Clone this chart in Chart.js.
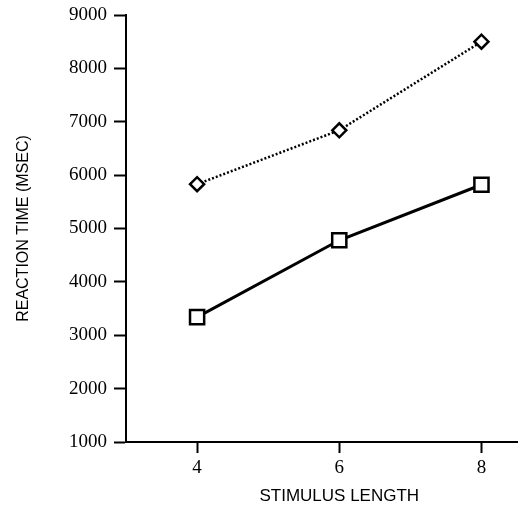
<!DOCTYPE html>
<html>
<head>
<meta charset="utf-8">
<script src="https://cdn.jsdelivr.net/npm/chart.js@4/dist/chart.umd.min.js"></script>
<style>
  html, body { margin: 0; padding: 0; background: #fff; overflow: hidden; }
  canvas { display: block; }
</style>
</head>
<body>
<canvas id="myChart" width="521" height="525"></canvas>
<script>
'use strict';

var stimulusLength = [4, 6, 8];
var dottedSeries = [5830, 6840, 8500];
var solidSeries = [3340, 4780, 5820];
var xTicks = [4, 6, 8];
var yTitle = 'REACTION TIME (MSEC)';
var xTitle = 'STIMULUS LENGTH';

function points(values) {
    return stimulusLength.map(function (x, i) { return {x: x, y: values[i]}; });
}

// x axis title sits under the middle tick, not the middle of the axis
var xTitlePlugin = {
    id: 'xTitle',
    afterDraw: function (chart) {
        var ctx = chart.ctx;
        var xs = chart.scales.x;
        ctx.save();
        ctx.fillStyle = '#000';
        ctx.font = '17px "Liberation Sans", Arial, sans-serif';
        ctx.textAlign = 'center';
        ctx.textBaseline = 'middle';
        ctx.fillText(xTitle, xs.getPixelForValue(6), 496);
        ctx.restore();
    }
};

window.chartDrawerInstance = new Chart(
    document.getElementById('myChart').getContext('2d'), {
        type: 'line',
        data: {
            datasets: [{
                data: points(dottedSeries),
                borderColor: '#000',
                borderWidth: 2.5,
                borderDash: [2, 2],
                pointStyle: 'rectRot',
                pointRadius: 7,
                pointBorderWidth: 2.5,
                pointBackgroundColor: '#fff',
                pointBorderColor: '#000'
            }, {
                data: points(solidSeries),
                borderColor: '#000',
                borderWidth: 3,
                pointStyle: 'rect',
                pointRadius: 10,
                pointBorderWidth: 2.5,
                pointBackgroundColor: '#fff',
                pointBorderColor: '#000'
            }]
        },
        plugins: [xTitlePlugin],
        options: {
            responsive: false,
            animation: false,
            layout: {
                autoPadding: false,
                padding: {top: 15, right: 4, left: 0, bottom: 0}
            },
            plugins: {
                legend: {display: false},
                tooltip: {enabled: false}
            },
            scales: {
                x: {
                    type: 'linear',
                    min: 3,
                    max: 8.5,
                    afterBuildTicks: function (scale) {
                        scale.ticks = xTicks.map(function (v) { return {value: v}; });
                    },
                    afterFit: function (scale) {
                        scale.height = 83;
                        scale.paddingLeft = 0;
                        scale.paddingRight = 0;
                    },
                    border: {display: true, color: '#000', width: 2},
                    grid: {
                        drawOnChartArea: false,
                        drawTicks: true,
                        tickLength: 11,
                        tickWidth: 2,
                        tickColor: '#000'
                    },
                    ticks: {
                        color: '#000',
                        padding: 4,
                        maxRotation: 0,
                        font: {family: '"Liberation Serif", "Times New Roman", serif', size: 19}
                    }
                },
                y: {
                    min: 1000,
                    max: 9000,
                    afterFit: function (scale) {
                        scale.width = 126;
                        scale.paddingTop = 0;
                        scale.paddingBottom = 0;
                    },
                    border: {display: true, color: '#000', width: 2},
                    grid: {
                        drawOnChartArea: false,
                        drawTicks: true,
                        tickLength: 12,
                        tickWidth: 2,
                        tickColor: '#000'
                    },
                    ticks: {
                        stepSize: 1000,
                        color: '#000',
                        padding: 7,
                        callback: function (v) { return String(v); },
                        font: {family: '"Liberation Serif", "Times New Roman", serif', size: 19}
                    },
                    title: {
                        display: true,
                        text: yTitle,
                        color: '#000',
                        padding: {top: 14, bottom: 0},
                        font: {family: '"Liberation Sans", Arial, sans-serif', size: 16}
                    }
                }
            }
        }
    }
);
</script>
</body>
</html>
